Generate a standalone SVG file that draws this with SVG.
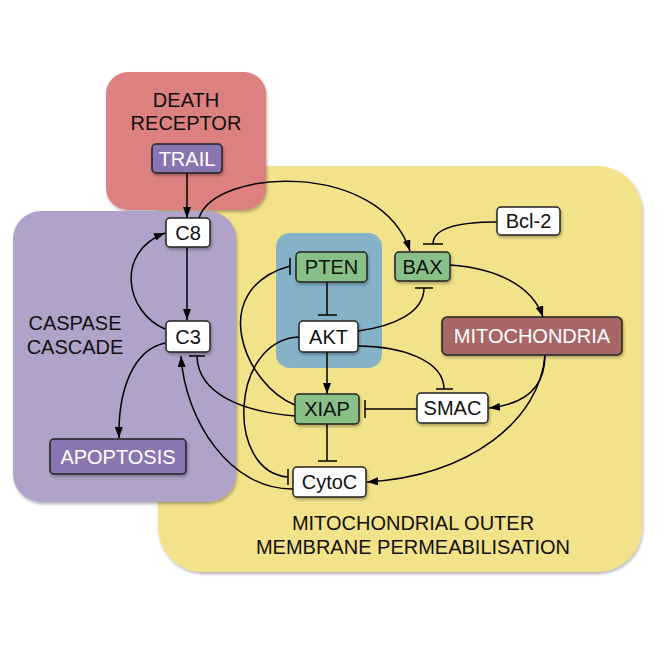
<svg xmlns="http://www.w3.org/2000/svg" width="664" height="664" viewBox="0 0 664 664">
<defs>
<filter id="sh" x="-10%" y="-10%" width="130%" height="130%">
<feDropShadow dx="1" dy="2" stdDeviation="1.5" flood-color="#000" flood-opacity="0.3"/>
</filter>
<marker id="arr" markerUnits="userSpaceOnUse" markerWidth="11" markerHeight="8" refX="11" refY="4" orient="auto">
<path d="M0,0 L11,4 L0,8 z" fill="#000"/>
</marker>
</defs>
<style>
.area{filter:url(#sh)}
.lbl{font-family:"Liberation Sans",Arial,sans-serif;font-size:20px;fill:#111;text-anchor:middle}
.node rect{stroke:#222;stroke-width:1.5;filter:url(#sh)}
.node text{font-family:"Liberation Sans",Arial,sans-serif;font-size:20px;text-anchor:middle;fill:#111}
.w rect{fill:#fff}
.g rect{fill:#88c088}
.p rect{fill:#8a74b0}
.p text,.m text{fill:#fff}
.m rect{fill:#a86666}
.c path{fill:none;stroke:#000;stroke-width:1.5}
.c .a{marker-end:url(#arr)}
</style>
<rect width="664" height="664" fill="#fff"/>
<g id="mitochondrial-area">
<rect class="area" x="158" y="166" width="484" height="406" rx="45" fill="#f2e28a"/>
<text class="lbl" x="413" y="530">MITOCHONDRIAL OUTER</text>
<text class="lbl" x="413" y="554">MEMBRANE PERMEABILISATION</text>
</g>
<g id="death-receptor-area">
<rect class="area" x="106" y="72" width="160" height="138" rx="22" fill="#dc8080"/>
<text class="lbl" x="186" y="107">DEATH</text>
<text class="lbl" x="186" y="130">RECEPTOR</text>
</g>
<g id="caspase-area">
<rect class="area" x="13" y="211" width="223" height="291" rx="28" fill="#b0a2c8"/>
<text class="lbl" x="75" y="330">CASPASE</text>
<text class="lbl" x="75" y="354">CASCADE</text>
</g>
<g id="akt-area">
<rect x="276" y="233" width="106" height="135" rx="14" fill="#86b2c8"/>
</g>
<g id="connectors" class="c">
<path class="a" d="M187,173 L187,218"/>
<path class="a" d="M187,247 L187,320"/>
<path class="a" d="M165,329 C125,312 115,252 165,233"/>
<path class="a" d="M165,343 C133,350 118,390 119,438"/>
<path class="a" d="M199,218 C215,168 380,160 410,251"/>
<path d="M497,222 C460,222 433,228 433,244"/>
<path d="M423,244 L443,244"/>
<path d="M358,331 C395,326 424,312 424,288"/>
<path d="M415,288 L433,288"/>
<path d="M327,282 L327,315"/>
<path d="M318,315 L337,315"/>
<path class="a" d="M450,265 C495,268 532,285 543,317"/>
<path class="a" d="M545,355 C545,385 528,404 489,408"/>
<path class="a" d="M545,355 C540,420 470,476 367,482"/>
<path d="M358,346 C400,346 444,360 444,389"/>
<path d="M436,389 L453,389"/>
<path class="a" d="M327,352 L327,394"/>
<path d="M417,409 L365,409"/>
<path d="M365,400 L365,418"/>
<path d="M327,424 L327,461"/>
<path d="M318,461 L337,461"/>
<path d="M295,405 C245,385 205,290 290,266"/>
<path d="M290,258 L290,275"/>
<path d="M295,416 C245,412 198,395 197,356"/>
<path d="M189,356 L205,356"/>
<path d="M299,337 C230,340 225,472 288,477"/>
<path d="M288,469 L288,485"/>
<path class="a" d="M293,489 C230,490 185,420 181,356"/>
</g>
<g id="TRAIL" class="node p"><rect x="152" y="144" width="70" height="29" rx="4"/><text x="187" y="166">TRAIL</text></g>
<g id="C8" class="node w"><rect x="166" y="218" width="44" height="29" rx="4"/><text x="188" y="240">C8</text></g>
<g id="C3" class="node w"><rect x="166" y="321" width="44" height="31" rx="4"/><text x="188" y="344">C3</text></g>
<g id="APOPTOSIS" class="node p"><rect x="50" y="439" width="136" height="35" rx="4"/><text x="118" y="464">APOPTOSIS</text></g>
<g id="PTEN" class="node g"><rect x="296" y="252" width="71" height="30" rx="4"/><text x="331.5" y="274">PTEN</text></g>
<g id="AKT" class="node w"><rect x="299" y="321" width="59" height="31" rx="4"/><text x="328.5" y="344">AKT</text></g>
<g id="BAX" class="node g"><rect x="395" y="252" width="55" height="29" rx="4"/><text x="422.5" y="274">BAX</text></g>
<g id="Bcl-2" class="node w"><rect x="497" y="207" width="63" height="28" rx="4"/><text x="528.5" y="228">Bcl-2</text></g>
<g id="MITOCHONDRIA" class="node m"><rect x="442" y="317" width="180" height="38" rx="5"/><text x="532" y="343">MITOCHONDRIA</text></g>
<g id="SMAC" class="node w"><rect x="417" y="393" width="71" height="30" rx="4"/><text x="452.5" y="415">SMAC</text></g>
<g id="XIAP" class="node g"><rect x="295" y="394" width="64" height="30" rx="4"/><text x="327" y="416">XIAP</text></g>
<g id="CytoC" class="node w"><rect x="293" y="467" width="73" height="30" rx="4"/><text x="329.5" y="489">CytoC</text></g>
</svg>
